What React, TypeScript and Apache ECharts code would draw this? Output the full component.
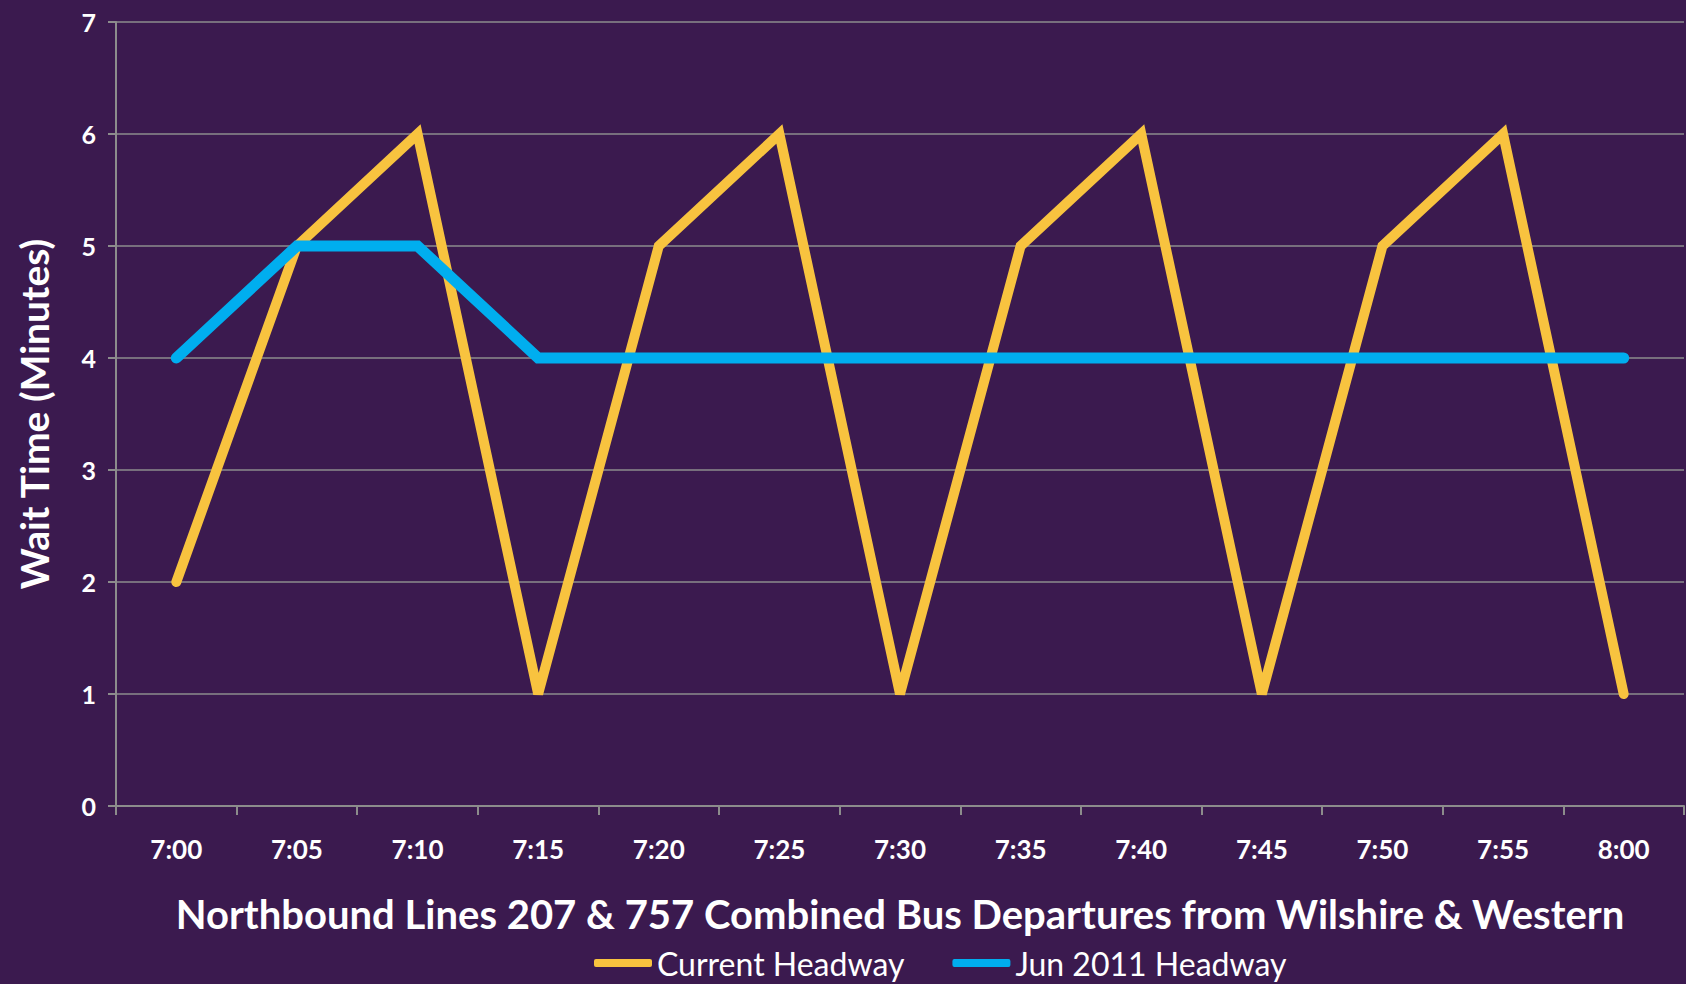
import React, { useEffect, useRef } from "react";
import * as echarts from "echarts";

const categories = ["7:00", "7:05", "7:10", "7:15", "7:20", "7:25", "7:30", "7:35", "7:40", "7:45", "7:50", "7:55", "8:00"];
const currentHeadway = [2, 5, 6, 1, 5, 6, 1, 5, 6, 1, 5, 6, 1];
const jun2011Headway = [4, 5, 5, 4, 4, 4, 4, 4, 4, 4, 4, 4, 4];
const seriesNames = ["Current Headway", "Jun 2011 Headway"];
const yTitle = "Wait Time (Minutes)";
const xTitle = "Northbound Lines 207 & 757 Combined Bus Departures from Wilshire & Western";

const FONT = "Lato";

export default function App() {
  const ref = useRef<HTMLDivElement>(null);
  useEffect(() => {
    if (!ref.current) return;
    const chart = echarts.init(ref.current, null, { renderer: "svg" });
    chart.setOption({
      animation: false,
      backgroundColor: "#3b1a4f",
      textStyle: { fontFamily: FONT },
      grid: { left: 116, right: 2, top: 22, bottom: 178 },
      legend: {
        bottom: 0,
        left: 589,
        itemWidth: 58,
        itemHeight: 8,
        itemGap: 48,
        icon: "roundRect",
        textStyle: { color: "#ffffff", fontSize: 32, fontFamily: FONT },
        data: seriesNames,
      },
      xAxis: {
        type: "category",
        data: categories,
        boundaryGap: true,
        name: xTitle,
        nameLocation: "middle",
        nameGap: 88,
        nameTextStyle: { color: "#ffffff", fontSize: 40, fontWeight: "bold", fontFamily: FONT },
        axisLine: { lineStyle: { color: "#8c8c8c", width: 2 } },
        axisTick: { show: true, length: 9, lineStyle: { color: "#8c8c8c", width: 2 } },
        axisLabel: { color: "#ffffff", fontSize: 26, fontWeight: "bold", margin: 30, fontFamily: FONT },
        splitLine: { show: false },
      },
      yAxis: {
        type: "value",
        min: 0,
        max: 7,
        interval: 1,
        name: yTitle,
        nameLocation: "middle",
        nameGap: 63,
        nameTextStyle: { color: "#ffffff", fontSize: 39, fontWeight: "bold", fontFamily: FONT },
        axisLine: { show: true, lineStyle: { color: "#8c8c8c", width: 2 } },
        axisTick: { show: true, length: 8, lineStyle: { color: "#8c8c8c", width: 2 } },
        axisLabel: { color: "#ffffff", fontSize: 25, fontWeight: "bold", margin: 20, fontFamily: FONT },
        splitLine: { show: true, lineStyle: { color: "#8c8c8c", width: 1.5 } },
      },
      series: [
        {
          name: seriesNames[0],
          type: "line",
          data: currentHeadway,
          symbol: "none",
          color: "#f8c33f",
          lineStyle: { width: 10, color: "#f8c33f", cap: "round", join: "miter" },
          z: 2,
        },
        {
          name: seriesNames[1],
          type: "line",
          data: jun2011Headway,
          symbol: "none",
          color: "#00aeef",
          lineStyle: { width: 11, color: "#00aeef", cap: "round", join: "miter" },
          z: 3,
        },
      ],
    });
    return () => chart.dispose();
  }, []);
  return <div ref={ref} style={{ position: "absolute", left: 0, top: 0, width: 1686, height: 984 }} />;
}
